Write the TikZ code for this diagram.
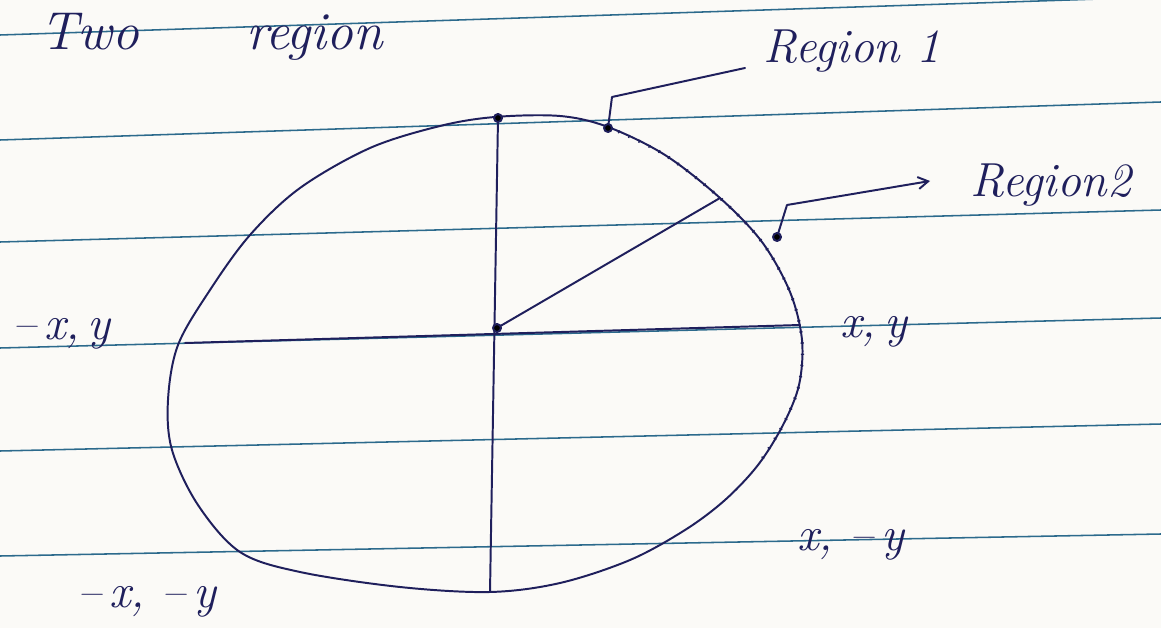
\documentclass[tikz,border=0pt]{standalone}
\usepackage{xcolor}
\usepackage{tikz}
\usetikzlibrary{arrows.meta, positioning, calc}

\definecolor{tinta}{HTML}{1F1F5C}
\definecolor{biru}{HTML}{2C6A8C}
\definecolor{kertas}{HTML}{FBFAF7}

\begin{document}
\begin{tikzpicture}[
    x=0.025cm, y=-0.025cm,
    garisbuku/.style={biru, line width=1.1pt},
    tinta/.style={draw=tinta, line width=1.4pt, line join=round, line cap=round},
    titik/.style={draw=tinta, line width=2.2pt, dash pattern=on 1pt off 7pt},
    panah/.style={tinta, -{Straight Barb[length=2.5mm, width=3mm]}},
    ket/.style={text=tinta, inner sep=0pt, anchor=base west,
                font=\fontsize{34}{36}\selectfont\itshape},
    judul/.style={ket, font=\fontsize{38}{42}\selectfont\itshape}
  ]
    \useasboundingbox[fill=kertas] (0,0) rectangle (1161,628);
    \clip (0,0) rectangle (1161,628);

    % garis buku
    \draw[garisbuku] (0,35) -- (1161,-3);
    \draw[garisbuku] (0,140) -- (1161,102);
    \draw[garisbuku] (0,242) -- (1161,210);
    \draw[garisbuku] (0,348) -- (1161,318);
    \draw[garisbuku] (0,451) -- (1161,424);
    \draw[garisbuku] (0,556) -- (1161,534);

    % judul
    \node[judul] (judul) at (40,50) {Two\hspace{2em}region};

    % elips
    \draw[tinta] plot[smooth cycle, tension=0.55] coordinates {
      (495,117) (560,116) (608,127) (665,155) (720,198) (762,242)
      (790,292) (802,340) (799,385) (783,425) (758,465) (725,500)
      (685,530) (630,560) (560,583) (490,592) (400,587) (300,572)
      (240,552) (198,505) (172,450) (168,400) (178,345) (210,290)
      (250,235) (300,188) (370,148) (440,126)};
    \draw[titik] plot[smooth, tension=0.55] coordinates {
      (608,127) (665,155) (720,198) (762,242) (790,292) (802,340)
      (799,385) (783,425) (758,465)};

    % sumbu dan jari-jari
    \coordinate (atas) at (498,118);
    \coordinate (bawah) at (490,592);
    \coordinate (kiri) at (185,343);
    \coordinate (kanan) at (800,325);
    \coordinate (pusat) at (497,328);
    \coordinate (ujung) at (720,198);
    \draw[tinta] (atas) -- (bawah);
    \draw[tinta] (kiri) -- (kanan);
    \draw[tinta] (pusat) -- (ujung);
    \fill[tinta] (pusat) circle (4);
    \fill[tinta] (atas) circle (4);

    % label titik
    \node[ket] (kiriatas) at (12,340) {--\,x,\,y};
    \node[ket] (kananatas) at (840,338) {x,\,y};
    \node[ket] (kananbawah) at (797,550) {x,\ --\,y};
    \node[ket] (kiribawah) at (77,607) {--\,x,\ --\,y};

    % region 1
    \node[ket] (reg1) at (763,63) {Region 1};
    \coordinate (r1a) at (608,128);
    \coordinate (r1b) at (612,97);
    \coordinate (r1c) at (745,68);
    \draw[tinta] (r1a) -- (r1b) -- (r1c);
    \fill[tinta] (r1a) circle (4);

    % region 2
    \node[ket] (reg2) at (970,197) {Region2};
    \coordinate (r2a) at (777,237);
    \coordinate (r2b) at (787,205);
    \coordinate (r2c) at (930,181);
    \draw[panah] (r2a) -- (r2b) -- (r2c);
    \fill[tinta] (r2a) circle (4);
  \end{tikzpicture}
\end{document}
